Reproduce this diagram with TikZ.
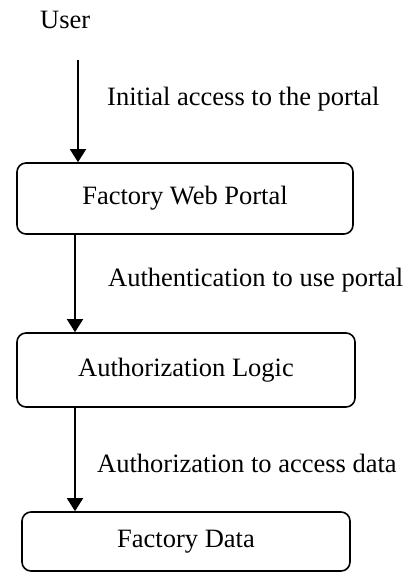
\documentclass[tikz,border=0pt]{standalone}
\usepackage{fontspec}
\setmainfont{Liberation Serif}
\usetikzlibrary{arrows.meta}
\begin{document}
\begin{tikzpicture}[x=1pt,y=-1pt,
  every node/.style={font=\fontsize{26.5}{30}\selectfont, inner sep=0pt},
  boxnode/.style={draw, line width=1.6pt, rounded corners=9pt},
  arr/.style={line width=1.6pt, -{Triangle[width=16pt,length=13pt]}},
  lbl/.style={anchor=base west}]
\useasboundingbox (0,0) rectangle (410,572);
\node[lbl] (user) at (40,29) {User};
\node[boxnode, minimum width=336pt, minimum height=71pt] (portal) at (185,198.5) {Factory Web Portal};
\node[boxnode, minimum width=338pt, minimum height=74pt] (logic) at (186,370) {Authorization Logic};
\node[boxnode, minimum width=328pt, minimum height=59pt] (data) at (186,541.5) {Factory Data};
\node[lbl] (l1) at (107,106) {Initial access to the portal};
\node[lbl] (l2) at (108,286) {Authentication to use portal};
\node[lbl] (l3) at (97,472) {Authorization to access data};
\coordinate (s1) at (78,60);
\coordinate (c2) at (75,0);
\draw[arr] (s1) -- (s1 |- portal.north);
\draw[arr] (c2 |- portal.south) -- (c2 |- logic.north);
\draw[arr] (c2 |- logic.south) -- (c2 |- data.north);
\end{tikzpicture}
\end{document}
